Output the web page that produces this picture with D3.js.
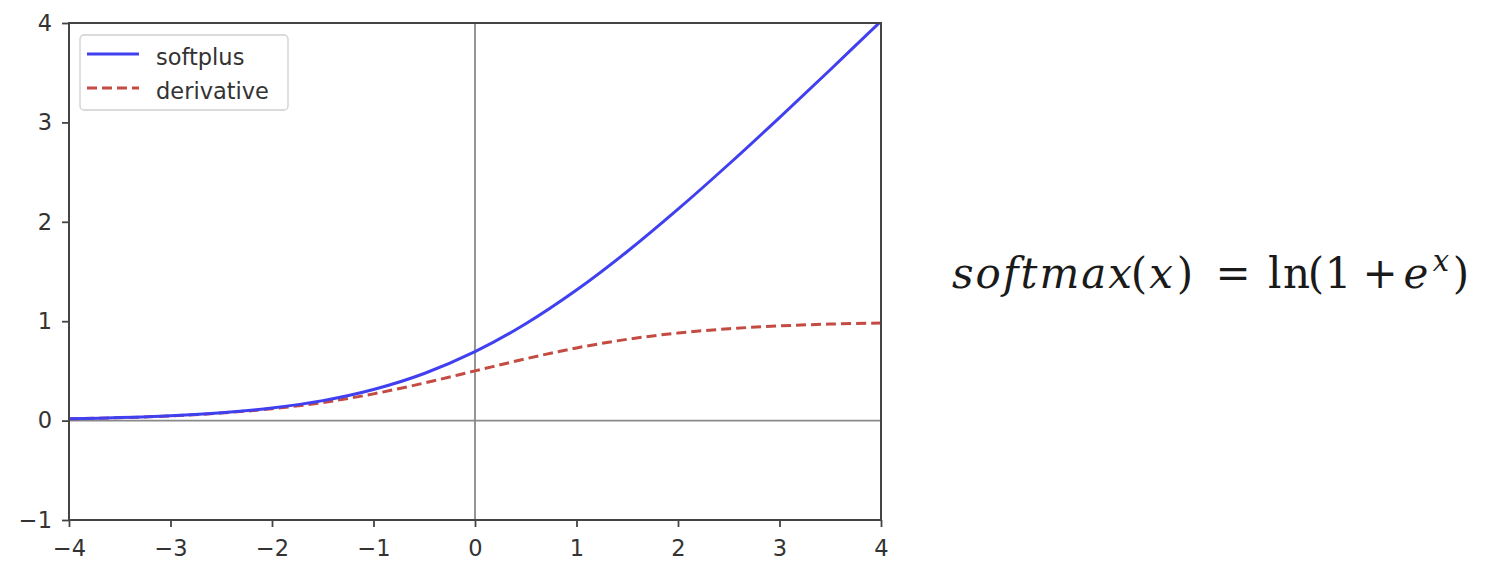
<!DOCTYPE html>
<html><head><meta charset="utf-8">
<script src="https://cdn.jsdelivr.net/npm/d3@7"></script>
<style>body{margin:0;background:#fff}svg{display:block}</style>
</head><body><svg id="c" width="1487" height="579"></svg>
<script>
const xs = [-4,-3.5,-3,-2.5,-2,-1.5,-1,-0.5,0,0.5,1,1.5,2,2.5,3,3.5,4];
const softplus = [0.018,0.030,0.049,0.079,0.127,0.201,0.313,0.474,0.693,0.974,1.313,1.701,2.127,2.579,3.049,3.530,4.018];
const derivative = [0.018,0.029,0.047,0.076,0.119,0.182,0.269,0.378,0.500,0.622,0.731,0.818,0.881,0.924,0.953,0.971,0.982];
const xTicks = [-4,-3,-2,-1,0,1,2,3,4];
const yTicks = [-1,0,1,2,3,4];
const seriesNames = ["softplus","derivative"];

const svg = d3.select("#c");
const L=69,R=881,T=23,B=520;
const x = d3.scaleLinear().domain([-4,4]).range([L,R]);
const y = d3.scaleLinear().domain([-1,4]).range([B,T]);
const fmt = d => d<0 ? "\u2212"+Math.abs(d) : String(d);
const font = "'DejaVu Sans', sans-serif";
const FS = 22.5;

svg.append("clipPath").attr("id","pc").append("rect").attr("x",L).attr("y",T).attr("width",R-L).attr("height",B-T);

svg.append("line").attr("x1",L).attr("x2",R).attr("y1",y(0)).attr("y2",y(0)).attr("stroke","#8a8a8a").attr("stroke-width",1.8);
svg.append("line").attr("x1",x(0)).attr("x2",x(0)).attr("y1",T).attr("y2",B).attr("stroke","#8a8a8a").attr("stroke-width",1.8);

const line = d3.line().x(d=>x(d[0])).y(d=>y(d[1])).curve(d3.curveCatmullRom);
const g = svg.append("g").attr("clip-path","url(#pc)");
g.append("path").datum(xs.map((v,i)=>[v,derivative[i]])).attr("d",line).attr("fill","none")
  .attr("stroke","#c44b42").attr("stroke-width",3).attr("stroke-dasharray","10,5");
g.append("path").datum(xs.map((v,i)=>[v,softplus[i]])).attr("d",line).attr("fill","none")
  .attr("stroke","#4040f0").attr("stroke-width",3);

const xa = svg.append("g").attr("transform",`translate(0,${B})`).call(d3.axisBottom(x).tickValues(xTicks).tickFormat(fmt).tickSize(7).tickPadding(13));
const ya = svg.append("g").attr("transform",`translate(${L},0)`).call(d3.axisLeft(y).tickValues(yTicks).tickFormat(fmt).tickSize(7).tickPadding(10));
[xa,ya].forEach(a=>{
  a.select(".domain").remove();
  a.selectAll("line").attr("stroke","#444").attr("stroke-width",1.8);
  a.selectAll("text").attr("font-family",font).attr("font-size",FS).attr("fill","#333");
});
svg.append("rect").attr("x",L).attr("y",T).attr("width",R-L).attr("height",B-T).attr("fill","none").attr("stroke","#444").attr("stroke-width",2);

const lg = svg.append("g");
lg.append("rect").attr("x",80).attr("y",35).attr("width",208).attr("height",75).attr("rx",4)
  .attr("fill","#fff").attr("fill-opacity",0.85).attr("stroke","#d0d0d0").attr("stroke-width",1.3);
const styles=[{c:"#4040f0",d:null},{c:"#c44b42",d:"10,5"}];
seriesNames.forEach((n,i)=>{
  const yy = 54+i*34;
  lg.append("line").attr("x1",87).attr("x2",139).attr("y1",yy).attr("y2",yy).attr("stroke",styles[i].c).attr("stroke-width",3).attr("stroke-dasharray",styles[i].d);
  lg.append("text").attr("x",156).attr("y",yy+11).attr("font-family",font).attr("font-size",FS).attr("fill","#333").text(n);
});

// formula: softmax(x) = ln(1 + e^x)
const serif = "'DejaVu Serif', serif";
const fg = svg.append("g").attr("font-family",serif).attr("fill","#1a1a1a").attr("text-anchor","middle");
const fy = 288;
const pieces = [
  {t:"softmax", x:1042, s:"italic", len:180},
  {t:"(", x:1139, s:"normal"},
  {t:"x", x:1161, s:"italic"},
  {t:")", x:1185, s:"normal"},
  {t:"=", x:1233, s:"normal"},
  {t:"ln", x:1289, s:"normal", len:42},
  {t:"(", x:1316, s:"normal"},
  {t:"1", x:1338, s:"normal"},
  {t:"+", x:1380, s:"normal"},
  {t:"e", x:1416, s:"italic"},
  {t:")", x:1461, s:"normal"}
];
pieces.forEach(p=>{
  const t = fg.append("text").attr("x",p.x).attr("y",fy).attr("font-size",42).attr("font-style",p.s).text(p.t);
  if(p.len) t.attr("textLength",p.len).attr("lengthAdjust","spacing");
});
fg.append("text").attr("x",1441).attr("y",271).attr("font-size",29).attr("font-style","italic").text("x");
</script></body></html>
